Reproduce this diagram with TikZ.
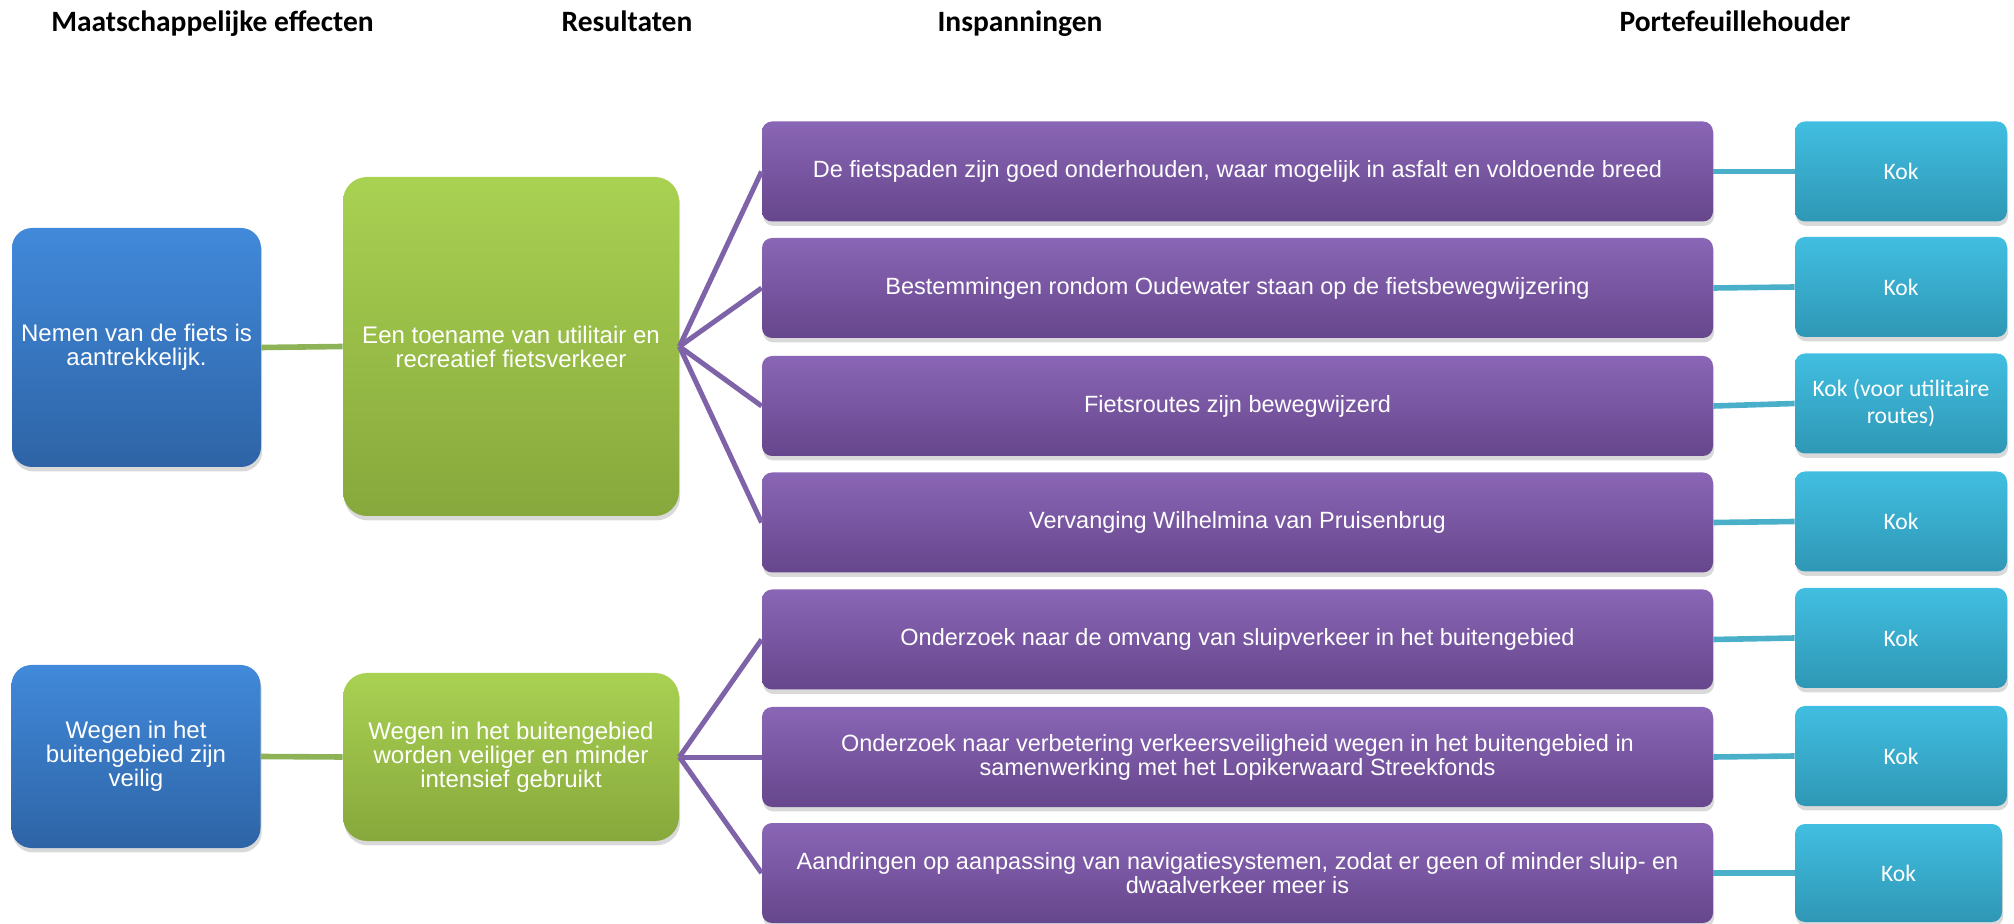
\documentclass[tikz,border=0pt]{standalone}
\usepackage{fontspec}
\setmainfont{Liberation Sans}
\newfontfamily\calibri{Carlito}
\usetikzlibrary{shadows}
\definecolor{blueT}{HTML}{4189DA}
\definecolor{blueB}{HTML}{2E64A6}
\definecolor{greenT}{HTML}{A9D152}
\definecolor{greenB}{HTML}{87A83C}
\definecolor{purpT}{HTML}{8A66B6}
\definecolor{purpB}{HTML}{66468C}
\definecolor{tealT}{HTML}{41BEE1}
\definecolor{tealB}{HTML}{2F97B5}
\definecolor{gline}{HTML}{8DB356}
\definecolor{pline}{HTML}{7F63A8}
\definecolor{tline}{HTML}{4AAFC9}
\begin{document}
\begin{tikzpicture}[x=0.5pt,y=-0.5pt,
  box/.style={rectangle, inner sep=0pt, text=white, align=center,
    drop shadow={shadow xshift=0.6pt, shadow yshift=-2.2pt, opacity=0.3}},
  bluebox/.style={box, rounded corners=10pt, top color=blueT, bottom color=blueB,
    font=\fontsize{12}{12}\selectfont, minimum width=124.5pt},
  greenbox/.style={box, rounded corners=12pt, top color=greenT, bottom color=greenB,
    font=\fontsize{12}{12}\selectfont, minimum width=168pt},
  purpbox/.style={box, rounded corners=5pt, top color=purpT, bottom color=purpB,
    font=\fontsize{11.75}{12}\selectfont, minimum width=475.5pt, minimum height=50pt},
  tealbox/.style={box, rounded corners=5pt, top color=tealT, bottom color=tealB,
    font=\calibri\fontsize{11.8}{13.5}\selectfont, minimum width=106pt, minimum height=50pt},
  hdr/.style={anchor=base, font=\calibri\bfseries\fontsize{14.75}{16}\selectfont},
  gconn/.style={draw=gline, line width=2.8pt},
  pconn/.style={draw=pline, line width=2.5pt},
  tconn/.style={draw=tline, line width=2.8pt}]
\useasboundingbox (0,0) rectangle (2014,924);

% headings
\node[hdr] (h1) at (212.5,32) {Maatschappelijke effecten};
\node[hdr] (h2) at (627,32) {Resultaten};
\node[hdr] (h3) at (1020,32) {Inspanningen};
\node[hdr] (h4) at (1735,32) {Portefeuillehouder};

% effects
\node[bluebox, minimum height=119.5pt] (b1) at (136.5,347.5) {Nemen van de fiets is\\aantrekkelijk.};
\node[bluebox, minimum height=91.5pt] (b2) at (136,756.5) {Wegen in het\\buitengebied zijn\\veilig};

% results
\node[greenbox, minimum height=169.5pt] (g1) at (511,346.5) {Een toename van utilitair en\\recreatief fietsverkeer};
\node[greenbox, minimum height=84pt] (g2) at (511,757) {Wegen in het buitengebied\\worden veiliger en minder\\intensief gebruikt};

% efforts
\node[purpbox] (p1) at (1237.5,171.5) {De fietspaden zijn goed onderhouden, waar mogelijk in asfalt en voldoende breed};
\node[purpbox] (p2) at (1237.5,288) {Bestemmingen rondom Oudewater staan op de fietsbewegwijzering};
\node[purpbox] (p3) at (1237.5,406) {Fietsroutes zijn bewegwijzerd};
\node[purpbox] (p4) at (1237.5,522.5) {Vervanging Wilhelmina van Pruisenbrug};
\node[purpbox] (p5) at (1237.5,639.5) {Onderzoek naar de omvang van sluipverkeer in het buitengebied};
\node[purpbox] (p6) at (1237.5,757) {Onderzoek naar verbetering verkeersveiligheid wegen in het buitengebied in\\samenwerking met het Lopikerwaard Streekfonds};
\node[purpbox] (p7) at (1237.5,873) {Aandringen op aanpassing van navigatiesystemen, zodat er geen of minder sluip- en\\dwaalverkeer meer is};

% portfolio holders
\node[tealbox] (t1) at (1901,171.5) {Kok};
\node[tealbox] (t2) at (1901,287) {Kok};
\node[tealbox] (t3) at (1901,403.5) {Kok (voor utilitaire\\routes)};
\node[tealbox] (t4) at (1901,521.5) {Kok};
\node[tealbox] (t5) at (1901,638) {Kok};
\node[tealbox] (t6) at (1901,756) {Kok};
\node[tealbox, minimum width=103.5pt, minimum height=49pt] (t7) at (1898.5,873) {Kok};

% connectors
\draw[gconn] (b1.east) -- (g1.west);
\draw[gconn] (b2.east) -- (g2.west);
\foreach \i in {1,2,3,4} \draw[pconn] (g1.east) -- (p\i.west);
\foreach \i in {5,6,7} \draw[pconn] (g2.east) -- (p\i.west);
\foreach \i in {1,...,7} \draw[tconn] (p\i.east) -- (t\i.west);
\end{tikzpicture}
\end{document}
